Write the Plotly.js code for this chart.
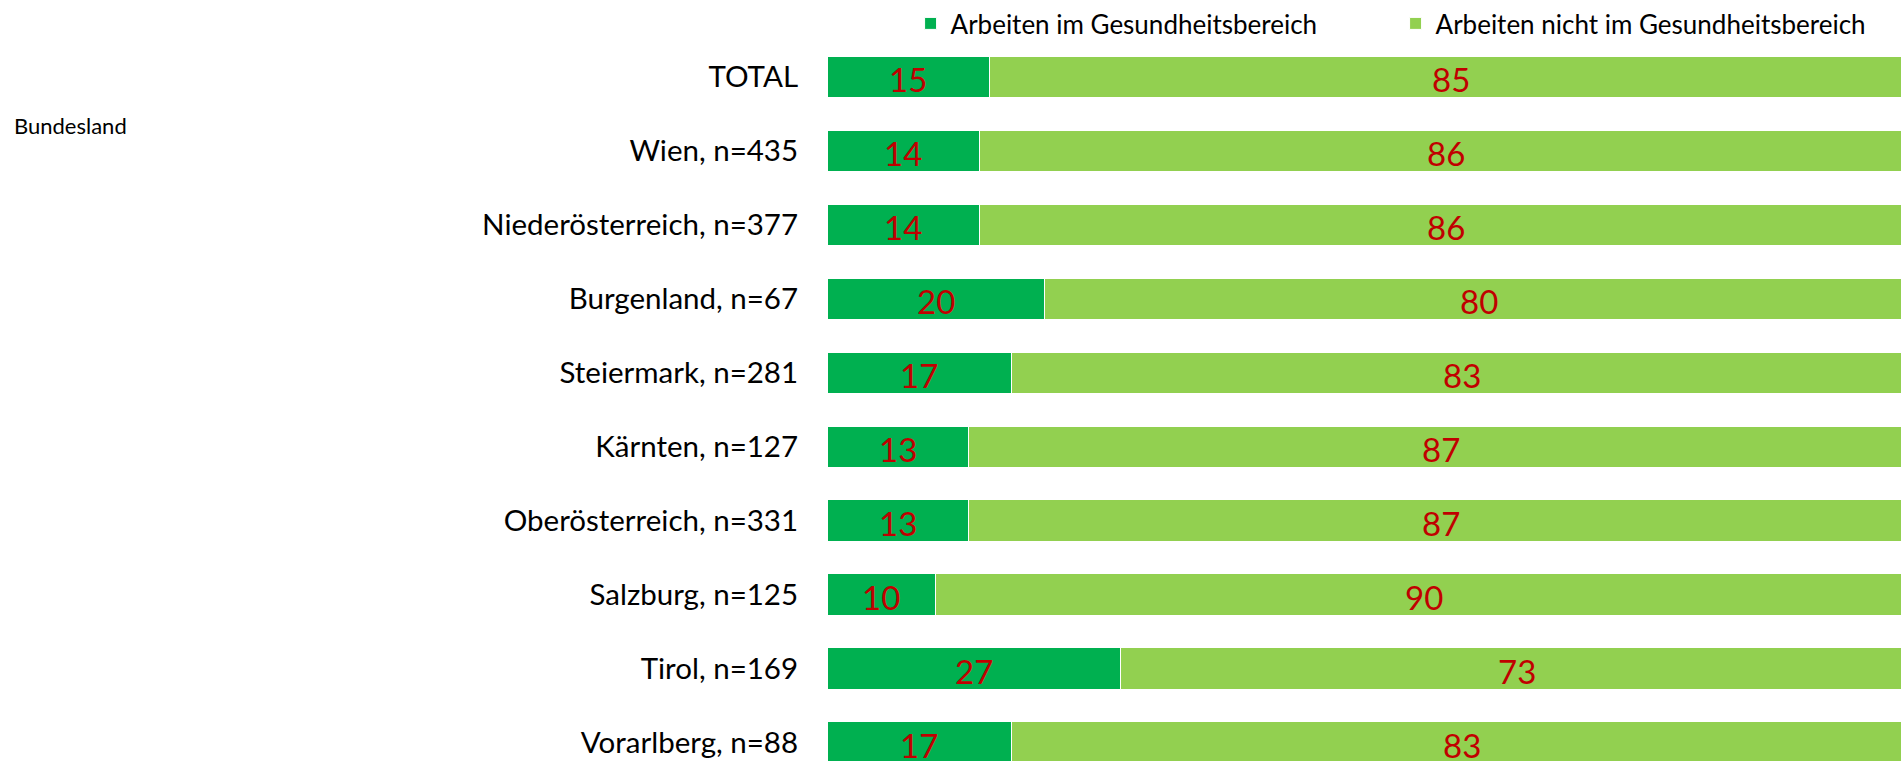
<!DOCTYPE html>
<html>
<head>
<meta charset="utf-8">
<script src="https://cdn.plot.ly/plotly-3.0.1.min.js"></script>
<style>
html,body{margin:0;padding:0;overflow:hidden;background:#fff;}
#chart{width:1901px;height:761px;}
</style>
</head>
<body>
<div id="chart"></div>
<script>
const categories = ["TOTAL","Wien, n=435","Niederösterreich, n=377","Burgenland, n=67","Steiermark, n=281","Kärnten, n=127","Oberösterreich, n=331","Salzburg, n=125","Tirol, n=169","Vorarlberg, n=88"];
const seriesNames = ["Arbeiten im Gesundheitsbereich","Arbeiten nicht im Gesundheitsbereich"];
const health = [15,14,14,20,17,13,13,10,27,17];
const nonHealth = [85,86,86,80,83,87,87,90,73,83];
const colors = ["#00B050","#92D050"];
const axisTitle = "Bundesland";

const font = "Lato, 'Open Sans', sans-serif";
function mk(name, vals, color){
  return {
    type:'bar', orientation:'h', name:name,
    y:categories, x:vals,
    marker:{color:color, line:{color:'#ffffff', width:1}},
    hoverinfo:'skip'
  };
}
const data = [mk(seriesNames[0], health, colors[0]), mk(seriesNames[1], nonHealth, colors[1])];

const valueLabels = [];
categories.forEach((c, i) => {
  const pairs = [[health[i]/2, health[i]], [health[i] + nonHealth[i]/2, nonHealth[i]]];
  pairs.forEach(([xc, v]) => {
    valueLabels.push({text:String(v), x:xc, y:c, xref:'x', yref:'y', showarrow:false, yshift:-2,
      xanchor:'center', yanchor:'middle', font:{family:font, size:33, color:'#C00000'}});
  });
});

const layout = {
  width:1901, height:761,
  margin:{l:827, r:0, t:40, b:0, pad:0, autoexpand:false},
  barmode:'stack', bargap:0.44,
  paper_bgcolor:'#ffffff', plot_bgcolor:'#ffffff',
  font:{family:font, color:'#000000'},
  showlegend:true,
  legend:{orientation:'h', xref:'container', yref:'container', x:0.479, xanchor:'left', y:1.0, yanchor:'top',
          traceorder:'normal', font:{family:font, size:26, color:'#000000'}, entrywidth:440, itemclick:false},
  xaxis:{range:[0,98.9], showgrid:false, zeroline:false, showticklabels:false, ticks:'', showline:false, fixedrange:true},
  yaxis:{type:'category', range:[9.25,-0.5], autorange:false, showgrid:false, zeroline:false, showline:false,
         ticks:'outside', ticklen:22, tickcolor:'rgba(0,0,0,0)', tickfont:{family:font, size:29.5, color:'#000000'}, fixedrange:true},
  annotations:[{text:axisTitle, xref:'paper', yref:'paper', x:(12-827)/1074, y:1-(125-39.77)/721.23, xanchor:'left', yanchor:'middle',
                showarrow:false, font:{family:font, size:22, color:'#000000'}}].concat(valueLabels)
};
Plotly.newPlot('chart', data, layout, {displayModeBar:false, staticPlot:true});
</script>
</body>
</html>
